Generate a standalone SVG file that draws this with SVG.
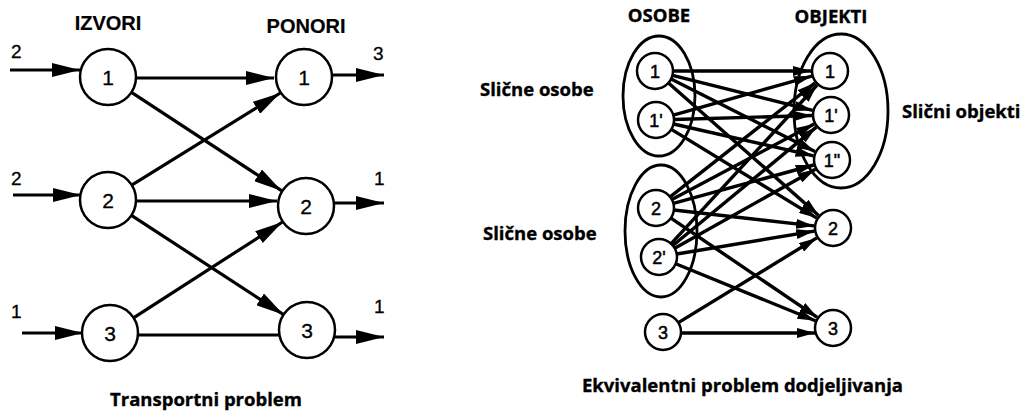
<svg xmlns="http://www.w3.org/2000/svg" width="1032" height="416" viewBox="0 0 1032 416">
<style>
.bg{fill:#ffffff}
.nd{fill:#ffffff;stroke:#000;stroke-width:2.5}
.grp{fill:none;stroke:#000;stroke-width:2.8}
.e{stroke:#000;stroke-width:3.2;fill:none}
.ea{stroke:#000;stroke-width:3.2;fill:none;marker-end:url(#ah)}
.eb{stroke:#000;stroke-width:3.4;fill:none;marker-end:url(#ahs)}
.lbl{font-family:"Liberation Sans",Arial,sans-serif;font-size:21px;text-anchor:middle;fill:#000;stroke:#000;stroke-width:0.3}
.lbs{font-family:"Liberation Sans",Arial,sans-serif;font-size:18px;text-anchor:middle;fill:#000;stroke:#000;stroke-width:0.5}
.num{font-family:"Liberation Sans",Arial,sans-serif;font-size:19px;fill:#000;stroke:#000;stroke-width:0.3}
.hd{font-family:"Liberation Sans",Arial,sans-serif;font-size:20px;font-weight:bold;text-anchor:middle;fill:#000;stroke:#000;stroke-width:0.2}
.cap{font-family:"Open Sans","DejaVu Sans",sans-serif;font-size:18.5px;font-weight:bold;fill:#000;stroke:#000;stroke-width:0.35}
</style>
<defs>
<marker id="ah" markerUnits="userSpaceOnUse" markerWidth="28" markerHeight="14" refX="28" refY="7" orient="auto">
<path d="M0,0 L28,7 L0,14 Z" fill="#000"/>
</marker>
<marker id="ahs" markerUnits="userSpaceOnUse" markerWidth="18" markerHeight="10" refX="18" refY="5" orient="auto">
<path d="M0,0 L18,5 L0,10 Z" fill="#000"/>
</marker>
</defs>
<rect class="bg" x="0" y="0" width="1032" height="416"/>

<!-- Left: transport problem -->
<text class="hd" x="108" y="30">IZVORI</text>
<text class="hd" x="306" y="33">PONORI</text>

<g id="connectors-left">
<line class="ea" x1="10" y1="70" x2="80" y2="70"/>
<line class="ea" x1="13" y1="195" x2="81" y2="195"/>
<line class="ea" x1="22" y1="333" x2="83" y2="333"/>
<line class="ea" x1="332" y1="75" x2="384" y2="75"/>
<line class="ea" x1="334" y1="203" x2="384" y2="203"/>
<line class="ea" x1="335" y1="337" x2="384" y2="337"/>
<line class="ea" x1="136" y1="78" x2="274" y2="78"/>
<line class="ea" x1="131.5" y1="92.3" x2="281.5" y2="190.7"/>
<line class="ea" x1="131.7" y1="185.1" x2="280.3" y2="93"/>
<line class="ea" x1="136" y1="201" x2="277" y2="201"/>
<line class="ea" x1="131.4" y1="215.3" x2="283.6" y2="314.7"/>
<line class="ea" x1="133.5" y1="317.8" x2="282.5" y2="222"/>
<line class="e" x1="138" y1="335" x2="280" y2="335"/>
</g>

<text class="num" x="11" y="58">2</text>
<text class="num" x="11" y="185">2</text>
<text class="num" x="11" y="318">1</text>
<text class="num" x="373" y="60">3</text>
<text class="num" x="374" y="185">1</text>
<text class="num" x="374" y="313">1</text>

<g id="s1"><circle class="nd" cx="108" cy="77" r="28"/><text class="lbl" x="108" y="85">1</text></g>
<g id="s2"><circle class="nd" cx="108" cy="200" r="28"/><text class="lbl" x="108" y="208">2</text></g>
<g id="s3"><circle class="nd" cx="110" cy="333" r="28"/><text class="lbl" x="110" y="341">3</text></g>
<g id="t1"><circle class="nd" cx="304" cy="77" r="28"/><text class="lbl" x="304" y="85">1</text></g>
<g id="t2"><circle class="nd" cx="306" cy="206" r="28"/><text class="lbl" x="306" y="214">2</text></g>
<g id="t3"><circle class="nd" cx="307" cy="330" r="28"/><text class="lbl" x="307" y="338">3</text></g>

<text class="cap" x="206" y="406" text-anchor="middle">Transportni problem</text>

<!-- Right: assignment problem -->
<text class="cap" x="659" y="22" text-anchor="middle">OSOBE</text>
<text class="cap" x="831" y="23" text-anchor="middle">OBJEKTI</text>

<g id="grp-osobe1"><ellipse class="grp" cx="659" cy="96" rx="36" ry="60"/></g>
<g id="grp-osobe2"><ellipse class="grp" cx="661" cy="231" rx="36" ry="66"/></g>
<g id="grp-objekti"><ellipse class="grp" cx="841" cy="111" rx="47" ry="77"/></g>

<text class="cap" x="480" y="96">Slične osobe</text>
<text class="cap" x="483" y="240">Slične osobe</text>
<text class="cap" x="902" y="118">Slični objekti</text>

<g id="connectors-right">
<line class="eb" x1="673" y1="71" x2="811" y2="71"/>
<line class="eb" x1="672.5" y1="75.4" x2="812.6" y2="110.4"/>
<line class="eb" x1="671.1" y1="79.1" x2="815" y2="151.5"/>
<line class="eb" x1="668.5" y1="82.9" x2="818.7" y2="215.4"/>
<line class="eb" x1="673.3" y1="115.1" x2="811.7" y2="76.1"/>
<line class="eb" x1="674" y1="119.5" x2="812" y2="115.5"/>
<line class="eb" x1="673.6" y1="124" x2="813.5" y2="155.8"/>
<line class="eb" x1="671.4" y1="129.4" x2="816.8" y2="218.1"/>
<line class="eb" x1="670.1" y1="196.9" x2="815.1" y2="82.8"/>
<line class="eb" x1="671.9" y1="199.6" x2="814.2" y2="123.9"/>
<line class="eb" x1="673.4" y1="203.3" x2="813.7" y2="165"/>
<line class="eb" x1="673.9" y1="210" x2="814.1" y2="225.9"/>
<line class="eb" x1="670.9" y1="218.1" x2="817.3" y2="317.3"/>
<line class="eb" x1="671.2" y1="243.7" x2="817.1" y2="85"/>
<line class="eb" x1="672.9" y1="245.5" x2="816.3" y2="127.1"/>
<line class="eb" x1="674.7" y1="248.2" x2="815.4" y2="169.3"/>
<line class="eb" x1="676.8" y1="254" x2="814.3" y2="231.1"/>
<line class="eb" x1="675.7" y1="263.8" x2="815.4" y2="320.8"/>
<line class="eb" x1="678.4" y1="322.6" x2="816.8" y2="237.9"/>
<line class="eb" x1="681" y1="333" x2="815" y2="333"/>
</g>

<g id="p1"><circle class="nd" cx="655" cy="71" r="18"/><text class="lbs" x="655" y="77.5">1</text></g>
<g id="p1b"><circle class="nd" cx="656" cy="120" r="18"/><text class="lbs" x="656" y="126.5">1'</text></g>
<g id="p2"><circle class="nd" cx="656" cy="208" r="18"/><text class="lbs" x="656" y="214.5">2</text></g>
<g id="p2b"><circle class="nd" cx="659" cy="257" r="18"/><text class="lbs" x="659" y="263.5">2'</text></g>
<g id="p3"><circle class="nd" cx="663" cy="332" r="18"/><text class="lbs" x="663" y="338.5">3</text></g>
<g id="o1"><circle class="nd" cx="830" cy="71" r="18"/><text class="lbs" x="830" y="77.5">1</text></g>
<g id="o1b"><circle class="nd" cx="831" cy="115" r="18"/><text class="lbs" x="831" y="121.5">1'</text></g>
<g id="o1c"><circle class="nd" cx="832" cy="160" r="18"/><text class="lbs" x="832" y="166.5">1"</text></g>
<g id="o2"><circle class="nd" cx="833" cy="228" r="18"/><text class="lbs" x="833" y="234.5">2</text></g>
<g id="o3"><circle class="nd" cx="833" cy="328" r="18"/><text class="lbs" x="833" y="334.5">3</text></g>

<text class="cap" x="582" y="392">Ekvivalentni problem dodjeljivanja</text>
</svg>
